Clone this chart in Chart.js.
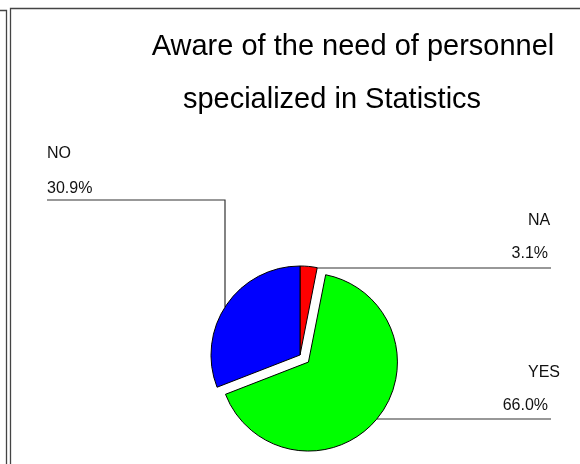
<!DOCTYPE html>
<html><head><meta charset="utf-8">
<script src="https://cdn.jsdelivr.net/npm/chart.js@4/dist/chart.umd.min.js"></script>
<style>html,body{margin:0;padding:0;background:#fff}canvas{display:block}</style>
</head><body>
<canvas id="c" width="580" height="464"></canvas>
<script>
// ---- data ----
const titleLines = ["Aware of the need of personnel", "specialized in Statistics"];
const categories = ["NA", "YES", "NO"];
const values = [3.1, 66.0, 30.9];
const valueLabels = ["3.1%", "66.0%", "30.9%"];
const colors = ["#ff0000", "#00ff00", "#0000ff"];
const explode = [0, 11, 0];

// ---- layout (not data) ----
const titleLayout = [{x: 353, y: 55}, {x: 332, y: 108}];
const labelLayout = {
  NA:  {side: "right", nameX: 528, nameY: 225, pctX: 548, pctY: 258, lineY: 268, lineEnd: 551},
  YES: {side: "right", nameX: 528, nameY: 377, pctX: 548, pctY: 410, lineY: 419, lineEnd: 551},
  NO:  {side: "left",  nameX: 47,  nameY: 158, pctX: 47,  pctY: 193, lineY: 200, lineEnd: 225}
};

const decor = {
  id: "decor",
  afterDatasetUpdate(chart, args) {
    const meta = args.meta;
    meta.data.forEach((arc, i) => {
      const d = explode[i] || 0;
      if (!d) return;
      const half = (arc.startAngle + arc.endAngle) / 2;
      arc.x += Math.cos(half) * d;
      arc.y += Math.sin(half) * d;
    });
  },
  beforeDraw(chart) {
    const ctx = chart.ctx;
    ctx.save();
    ctx.fillStyle = "#fff";
    ctx.fillRect(0, 0, chart.width, chart.height);
    // frame
    ctx.strokeStyle = "#444";
    ctx.lineWidth = 1.3;
    ctx.beginPath();
    ctx.moveTo(0, 10.5); ctx.lineTo(6.5, 10.5); ctx.lineTo(6.5, chart.height);
    ctx.moveTo(10.5, chart.height); ctx.lineTo(10.5, 8.5); ctx.lineTo(chart.width, 8.5);
    ctx.stroke();
    // title
    ctx.fillStyle = "#000";
    ctx.font = "29px 'Liberation Sans', Arial, sans-serif";
    ctx.textAlign = "center";
    ctx.textBaseline = "alphabetic";
    titleLines.forEach((t, i) => ctx.fillText(t, titleLayout[i].x, titleLayout[i].y));
    // leaders and labels
    const meta = chart.getDatasetMeta(0);
    ctx.font = "16px 'Liberation Sans', Arial, sans-serif";
    ctx.strokeStyle = "#333";
    ctx.lineWidth = 1.2;
    categories.forEach((cat, i) => {
      const L = labelLayout[cat];
      const arc = meta.data[i];
      const r = arc.outerRadius;
      ctx.fillStyle = "#111";
      if (L.side === "left") {
        ctx.textAlign = "left";
        ctx.fillText(cat, L.nameX, L.nameY);
        ctx.fillText(valueLabels[i], L.pctX, L.pctY);
        const dx = arc.x - L.lineEnd;
        const yEdge = arc.y - Math.sqrt(Math.max(r * r - dx * dx, 0));
        ctx.beginPath();
        ctx.moveTo(L.nameX, L.lineY);
        ctx.lineTo(L.lineEnd, L.lineY);
        ctx.lineTo(L.lineEnd, yEdge);
        ctx.stroke();
      } else {
        ctx.textAlign = "left";
        ctx.fillText(cat, L.nameX, L.nameY);
        ctx.textAlign = "right";
        ctx.fillText(valueLabels[i], L.pctX, L.pctY);
        let xStart;
        if (Math.abs(arc.endAngle - arc.startAngle) < 0.5) {
          xStart = arc.x + r * Math.cos(arc.endAngle);
        } else {
          const dy = L.lineY - arc.y;
          xStart = arc.x + Math.sqrt(Math.max(r * r - dy * dy, 0));
        }
        ctx.beginPath();
        ctx.moveTo(xStart, L.lineY);
        ctx.lineTo(L.lineEnd, L.lineY);
        ctx.stroke();
      }
    });
    ctx.restore();
  }
};

new Chart(document.getElementById("c"), {
  type: "pie",
  data: {
    labels: categories,
    datasets: [{
      data: values,
      backgroundColor: colors,
      borderColor: "#000",
      borderWidth: 1
    }]
  },
  options: {
    responsive: false,
    animation: false,
    radius: 89,
    layout: {padding: {left: 120, right: 100, top: 250, bottom: 4}},
    plugins: {legend: {display: false}, tooltip: {enabled: false}, title: {display: false}}
  },
  plugins: [decor]
});
</script>
</body></html>
